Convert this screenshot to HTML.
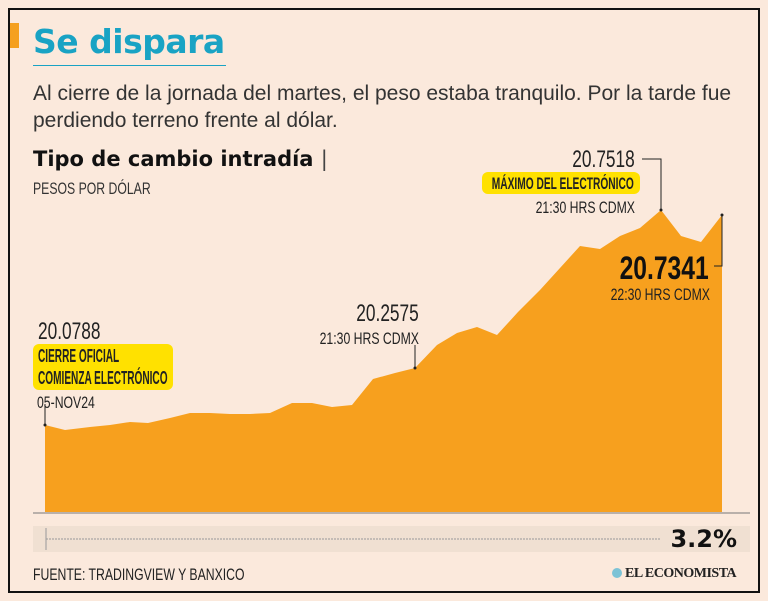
<!DOCTYPE html>
<html><head><meta charset="utf-8"><style>
body{margin:0;width:768px;height:601px;background:#fbe9dc;position:relative;overflow:hidden;font-family:"Liberation Sans",sans-serif}
.frame{position:absolute;left:8px;top:8px;width:748px;height:581px;border:2px solid #111;}
.t{position:absolute;white-space:nowrap;color:#222}
.c{transform-origin:0 0;transform:scaleX(0.72)}
.cr{transform-origin:100% 0;transform:scaleX(0.72)}
.hl{background:#ffe100;border-radius:6px}
</style></head><body>
<div class="frame"></div>
<div style="position:absolute;left:10px;top:23px;width:9px;height:25px;background:#f5a01f"></div>
<div class="t" style="left:33px;top:22px;font:bold 33px 'DejaVu Sans',sans-serif;color:#19a3c4;letter-spacing:-0.5px">Se dispara</div>
<div style="position:absolute;left:33px;top:65px;width:193px;height:1px;background:#19a3c4"></div>
<div class="t" style="left:33px;top:82px;font-size:21px;color:#333">Al cierre de la jornada del martes, el peso estaba tranquilo. Por la tarde fue</div>
<div class="t" style="left:33px;top:109px;font-size:21px;color:#333">perdiendo terreno frente al dólar.</div>
<div class="t" style="left:33px;top:147px;font:bold 21px 'DejaVu Sans',sans-serif;color:#111">Tipo de cambio intradía <span style="font-weight:normal;color:#444">|</span></div>
<div class="t c" style="left:33px;top:179px;font-size:17px;color:#333">PESOS POR DÓLAR</div>
<svg style="position:absolute;left:0;top:0" width="768" height="601">
<polygon fill="#f7a01e" points="45,425 65,430 90,427 110,425 130,422 148,423 170,418 190,413 210,413 230,414 250,414 270,413 292,403 312,403 332,407 352,405 373,379 395,373 415,368 437,345 457,333 477,327 497,335 518,312 540,290 560,268 580,246 600,249 620,236 640,228 661,210 681,236 701,242 722,215 722,512 45,512"/>
<line x1="33" y1="513" x2="750" y2="513" stroke="#777" stroke-width="1"/>
<rect x="33" y="526" width="717" height="26" fill="#f0e0d2"/>
<line x1="46" y1="528" x2="46" y2="550" stroke="#999"/>
<line x1="46" y1="539" x2="660" y2="539" stroke="#999" stroke-dasharray="2,1"/>
<g stroke="#222" stroke-width="1">
<line x1="45" y1="404" x2="45" y2="425"/><line x1="415" y1="345" x2="415" y2="368"/>
<polyline fill="none" points="642,159 661,159 661,210"/><polyline fill="none" points="714,266 722,266 722,215"/>
</g>
<g fill="#222"><circle cx="45" cy="425" r="1.5"/><circle cx="415" cy="368" r="1.5"/><circle cx="661" cy="210" r="1.5"/><circle cx="722" cy="215" r="1.5"/></g>
</svg>
<div class="t c" style="left:38px;top:318px;font-size:24px">20.0788</div>
<div class="hl" style="position:absolute;left:33px;top:344px;width:140px;height:46px"></div>
<div class="t" style="left:38px;top:345px;font-size:18px;font-weight:bold;line-height:22px;color:#222;transform-origin:0 0;transform:scaleX(0.56)">CIERRE OFICIAL<br>COMIENZA ELECTRÓNICO</div>
<div class="t c" style="left:37px;top:393px;font-size:17px">05-NOV24</div>
<div class="t cr" style="right:349px;top:300px;font-size:24px">20.2575</div>
<div class="t cr" style="right:349px;top:329px;font-size:17px">21:30 HRS CDMX</div>
<div class="t cr" style="right:133px;top:146px;font-size:24px">20.7518</div>
<div class="hl" style="position:absolute;left:482px;top:172px;width:158px;height:22px"></div>
<div class="t" style="right:134px;top:174px;font-size:17px;font-weight:bold;transform-origin:100% 0;transform:scaleX(0.6)">MÁXIMO DEL ELECTRÓNICO</div>
<div class="t cr" style="right:133px;top:198px;font-size:17px">21:30 HRS CDMX</div>
<div class="t" style="right:59px;top:250px;font-size:32px;font-weight:bold;color:#111;transform-origin:100% 0;transform:scaleX(0.77)">20.7341</div>
<div class="t cr" style="right:58px;top:285px;font-size:17px">22:30 HRS CDMX</div>
<div class="t" style="right:31px;top:525px;font:bold 24px 'DejaVu Sans',sans-serif;color:#111">3.2%</div>
<div class="t c" style="left:33px;top:565px;font-size:17px">FUENTE: TRADINGVIEW Y BANXICO</div>
<div style="position:absolute;left:612px;top:568px;width:10px;height:10px;border-radius:50%;background:#7cc3d6"></div>
<div class="t" style="left:625px;top:566px;font:bold 14px 'Liberation Serif',serif;color:#222;letter-spacing:-0.5px">EL ECONOMISTA</div>
</body></html>
